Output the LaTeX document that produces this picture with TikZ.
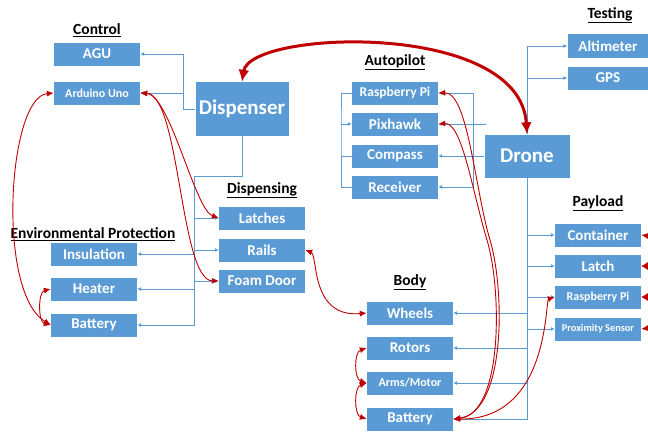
\documentclass[tikz,border=0pt]{standalone}
\usepackage{fontspec}
\setmainfont{Carlito}
\usetikzlibrary{arrows.meta}

\definecolor{boxblue}{HTML}{5B9BD5}
\definecolor{tiered}{HTML}{C00000}

\tikzset{
  box/.style={fill=boxblue, text=white, font=\bfseries\fontsize{15}{18}\selectfont,
    minimum width=86pt, minimum height=23pt, inner sep=0pt},
  small/.style={font=\bfseries\fontsize{12}{14}\selectfont},
  tiny/.style={font=\bfseries\fontsize{10.3}{12}\selectfont},
  big/.style={font=\bfseries\fontsize{21}{25}\selectfont},
  head/.style={font=\bfseries\fontsize{15.5}{18}\selectfont, inner sep=0pt},
  link/.style={boxblue, line width=0.8pt, -{Latex[length=4pt,width=4pt]}},
  tie/.style={tiered, line width=0.9pt, {Latex[length=7pt,width=6pt]}-{Latex[length=7pt,width=6pt]}},
  bigtie/.style={tiered, line width=3pt, {Latex[length=12pt,width=11pt]}-{Latex[length=12pt,width=11pt]}},
}

\begin{document}
\begin{tikzpicture}[x=1pt,y=-1pt]
\useasboundingbox (0,0) rectangle (648,432);

% headings
\node [head] (hctrl) at (97,30) {\underline{Control}};
\node [head] (hdisp) at (262,190) {\underline{Dispensing}};
\node [head] (henv) at (93,234) {\underline{Environmental Protection}};
\node [head] (hauto) at (395,62) {\underline{Autopilot}};
\node [head] (htest) at (610,15) {\underline{Testing}};
\node [head] (hpay) at (598,203) {\underline{Payload}};
\node [head] (hbody) at (410,282) {\underline{Body}};

% dispenser side
\node [box] (agu) at (97,54) {AGU};
\node [box,small] (ard) at (97,93) {Arduino Uno};
\node [box,big,minimum width=93pt,minimum height=54pt] (disp) at (242,109) {Dispenser};
\node [box] (latch) at (262,218) {Latches};
\node [box] (rails) at (262,250) {Rails};
\node [box] (foam) at (262,281) {Foam Door};
\node [box] (insul) at (94,254) {Insulation};
\node [box] (heat) at (94,289) {Heater};
\node [box] (ebat) at (94,325) {Battery};

% drone side
\node [box,small,font=\bfseries\fontsize{13.5}{16}\selectfont] (rpi) at (395,93) {Raspberry Pi};
\node [box] (pix) at (395,124) {Pixhawk};
\node [box] (comp) at (395,156) {Compass};
\node [box] (recv) at (395,187) {Receiver};
\node [box,big,minimum width=85pt,minimum height=43pt] (drone) at (527,156) {Drone};
\node [box,minimum width=81pt,minimum height=24pt] (alti) at (608,46) {Altimeter};
\node [box,minimum width=81pt,minimum height=23pt] (gps) at (608,78) {GPS};
\node [box] (cont) at (598,235) {Container};
\node [box] (plat) at (598,266) {Latch};
\node [box,small] (prpi) at (598,297) {Raspberry Pi};
\node [box,tiny] (prox) at (598,329) {Proximity Sensor};
\node [box] (wheel) at (410,313) {Wheels};
\node [box] (rotor) at (410,348) {Rotors};
\node [box,small] (arms) at (410,383) {Arms/Motor};
\node [box] (bbat) at (410,419) {Battery};

% blue tree lines
\coordinate (c1) at (183,109);
\coordinate (c2) at (194,176);
\draw [boxblue,line width=0.8pt] (disp.west) -- (c1);
\draw [link] (c1) |- (agu.east);
\draw [link] (c1) |- (ard.east);
\draw [boxblue,line width=0.8pt] (disp.south) |- (c2);
\draw [link] (c2) |- (latch.west);
\draw [link] (c2) |- (rails.west);
\draw [link] (c2) |- (foam.west);
\draw [link] (c2) |- (insul.east);
\draw [link] (c2) |- (heat.east);
\draw [link] (c2) |- (ebat.east);

\draw [link] (drone.north) |- (alti.west);
\draw [link] (drone.north) |- (gps.west);
\draw [link] (drone.west) -- (comp.east);
\coordinate (c3) at (486,124);
\coordinate (c4) at (473,124);
\draw [link] (c3) -- (pix.east);
\draw [link] (c4) |- (rpi.east);
\draw [link] (c4) |- (recv.east);
\coordinate (c5) at (341,124);
\draw [boxblue,line width=0.8pt] (rpi.west) -| (c5) |- (recv.west);
\draw [boxblue,line width=0.8pt] (comp.west) -- (comp.west -| c5);
\draw [link] (c5) -- (pix.west);

\draw [link] (drone.south) |- (cont.west);
\draw [link] (drone.south) |- (plat.west);
\draw [link] (drone.south) |- (prpi.west);
\draw [link] (drone.south) |- (prox.west);
\draw [link] (drone.south) |- (wheel.east);
\draw [link] (drone.south) |- (rotor.east);
\draw [link] (drone.south) |- (arms.east);
\draw [link] (drone.south) |- (bbat.east);

% red ties
\draw [bigtie] (disp.north) .. controls (250,30) and (520,20) .. (drone.north);
\draw [tie] (ard.west) .. controls (8,97) and (-4,292) .. (ebat.west);
\draw [tie] (heat.west) .. controls (38,292) and (38,322) .. (ebat.west);
\draw [tie] (ard.east) .. controls (170,95) and (195,210) .. (latch.west);
\draw [tie] (ard.east) .. controls (180,95) and (180,280) .. (foam.west);
\draw [tie] (rails.east) .. controls (318,255) and (310,318) .. (wheel.west);
\draw [tie] (rpi.east) .. controls (468,92) and (475,190) .. (490,240) .. controls (505,290) and (506,412) .. (bbat.east);
\draw [tie] (pix.east) .. controls (462,122) and (472,190) .. (487,240) .. controls (502,290) and (503,414) .. (bbat.east);
\draw [tie] (prpi.west) .. controls (545,300) and (550,420) .. (bbat.east);
\draw [tie] (rotor.west) .. controls (354,352) and (354,379) .. (arms.west);
\draw [tie] (arms.west) .. controls (354,387) and (354,415) .. (bbat.west);
\draw [tie] (cont.east) .. controls (664,238) and (664,263) .. (plat.east);
\draw [tie] (plat.east) .. controls (664,269) and (664,294) .. (prpi.east);
\draw [tie] (prpi.east) .. controls (664,300) and (664,326) .. (prox.east);
\end{tikzpicture}
\end{document}
